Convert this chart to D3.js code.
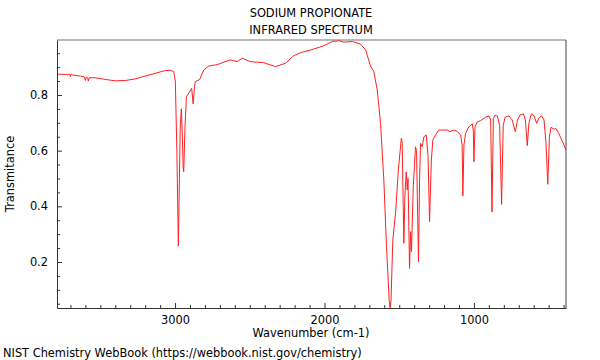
<!DOCTYPE html>
<html><head><meta charset="utf-8">
<script src="https://cdn.jsdelivr.net/npm/d3@7"></script>
<style>body{margin:0;background:#fff}svg{display:block;font-family:"DejaVu Sans",sans-serif}</style>
</head><body><svg id="c" width="600" height="360"></svg>
<script>
const titleLines = ["SODIUM PROPIONATE", "INFRARED SPECTRUM"];
const xLabel = "Wavenumber (cm-1)";
const yLabel = "Transmitance";
const footer = "NIST Chemistry WebBook (https://webbook.nist.gov/chemistry)";
const xTickValues = [3000, 2000, 1000];
const yTickValues = [0.2, 0.4, 0.6, 0.8];
const wavenumber = [3788,3735,3703,3700,3697,3634,3610,3600,3595,3585,3580,3575,3534,3467,3400,3333,3266,3199,3132,3065,3031,3009,2998,2988,2978,2971,2965,2958,2951,2946,2942,2934,2924,2904,2889,2879,2870,2864,2835,2808,2775,2719,2630,2585,2551,2496,2407,2328,2261,2206,2161,2072,2005,1948,1904,1871,1814,1759,1725,1692,1670,1647,1625,1603,1585,1567,1561,1555,1543,1524,1506,1486,1480,1469,1462,1453,1446,1441,1431,1424,1418,1406,1391,1384,1379,1371,1364,1357,1346,1335,1319,1307,1297,1285,1275,1257,1234,1178,1161,1136,1109,1089,1079,1074,1067,1056,1034,1011,1004,1000,993,977,955,922,899,888,879,870,859,843,828,815,804,792,766,744,723,709,692,669,656,643,632,616,598,580,565,547,531,518,506,495,484,464,452,431,397,384];
const transmittance = [0.875,0.874,0.874,0.866,0.873,0.868,0.866,0.852,0.864,0.862,0.85,0.862,0.862,0.856,0.851,0.852,0.858,0.868,0.878,0.888,0.889,0.884,0.85,0.6,0.257,0.5,0.686,0.75,0.65,0.542,0.524,0.68,0.794,0.81,0.824,0.768,0.83,0.848,0.856,0.89,0.904,0.909,0.926,0.92,0.932,0.92,0.916,0.902,0.914,0.941,0.952,0.965,0.977,0.992,0.995,0.99,0.992,0.983,0.962,0.904,0.884,0.818,0.698,0.495,0.255,0.06,0.035,0.06,0.279,0.38,0.53,0.644,0.626,0.267,0.435,0.524,0.459,0.5,0.177,0.309,0.237,0.47,0.614,0.6,0.435,0.2,0.495,0.626,0.614,0.65,0.656,0.58,0.345,0.566,0.638,0.656,0.674,0.674,0.668,0.674,0.668,0.656,0.62,0.438,0.62,0.662,0.686,0.696,0.67,0.56,0.686,0.704,0.708,0.72,0.725,0.71,0.38,0.715,0.727,0.725,0.69,0.407,0.69,0.72,0.725,0.71,0.668,0.71,0.728,0.732,0.71,0.618,0.7,0.732,0.725,0.698,0.718,0.725,0.71,0.63,0.479,0.65,0.684,0.677,0.68,0.66,0.62,0.602];

const W = 600, H = 360;
const m = {l: 57, r: 34, t: 40, b: 52};
const FS = 11.4;
const svg = d3.select("#c");
const x = d3.scaleLinear().domain([3790, 384]).range([m.l, W - m.r]);
const y = d3.scaleLinear().domain([0.0346, 0.9976]).range([H - m.b, m.t]);

const data = wavenumber.map((w, i) => ({w, t: transmittance[i]}));

const xMinor = d3.range(3700, 384, -100).filter(v => !xTickValues.includes(v));
const yMinor = d3.range(0.05, 0.99, 0.05).map(v => +v.toFixed(2)).filter(v => !yTickValues.some(t => Math.abs(t - v) < 1e-6));

const g = svg.append("g");
// frame: top light gray, right dark
g.append("line").attr("x1", m.l).attr("x2", W - m.r).attr("y1", m.t).attr("y2", m.t)
  .attr("stroke", "#a0a0a0").attr("stroke-width", 1.5);
g.append("line").attr("x1", W - m.r).attr("x2", W - m.r).attr("y1", m.t).attr("y2", H - m.b)
  .attr("stroke", "#444").attr("stroke-width", 1);

// spectrum
g.append("clipPath").attr("id", "clip").append("rect").attr("x", m.l).attr("y", m.t - 2).attr("width", W - m.l - m.r).attr("height", H - m.t - m.b + 4);
g.append("path").datum(data).attr("clip-path", "url(#clip)")
  .attr("fill", "none").attr("stroke", "#ff2020").attr("stroke-width", 1)
  .attr("d", d3.line().x(d => x(d.w)).y(d => y(d.t)));

// x axis
const xAxis = g.append("g").attr("transform", `translate(0,${H - m.b})`)
  .call(d3.axisBottom(x).tickValues(xTickValues).tickSizeInner(-5).tickSizeOuter(0).tickPadding(8).tickFormat(d3.format("d")));
xAxis.select(".domain").attr("stroke", "#333");
xAxis.selectAll(".tick line").attr("stroke", "#333");
xAxis.selectAll("text").attr("font-size", FS).attr("fill", "#000").attr("font-family", "DejaVu Sans");
g.append("g").attr("transform", `translate(0,${H - m.b})`)
  .call(d3.axisBottom(x).tickValues(xMinor).tickSizeInner(-3).tickSizeOuter(0).tickFormat(""))
  .call(a => a.select(".domain").remove()).selectAll(".tick line").attr("stroke", "#333");

// y axis
const yAxis = g.append("g").attr("transform", `translate(${m.l},0)`)
  .call(d3.axisLeft(y).tickValues(yTickValues).tickSizeInner(-5).tickSizeOuter(0).tickPadding(9).tickFormat(d3.format(".1f")));
yAxis.select(".domain").attr("stroke", "#333");
yAxis.selectAll(".tick line").attr("stroke", "#333");
yAxis.selectAll("text").attr("font-size", FS).attr("fill", "#000").attr("font-family", "DejaVu Sans");
g.append("g").attr("transform", `translate(${m.l},0)`)
  .call(d3.axisLeft(y).tickValues(yMinor).tickSizeInner(-3).tickSizeOuter(0).tickFormat(""))
  .call(a => a.select(".domain").remove()).selectAll(".tick line").attr("stroke", "#333");

// titles
svg.selectAll(".title").data(titleLines).enter().append("text")
  .attr("x", 311).attr("y", (d, i) => 17 + i * 17).attr("text-anchor", "middle")
  .attr("font-size", FS).text(d => d);
svg.append("text").attr("x", 311).attr("y", 337).attr("text-anchor", "middle").attr("font-size", FS).text(xLabel);
svg.append("text").attr("transform", "translate(14,174) rotate(-90)").attr("text-anchor", "middle").attr("font-size", FS).text(yLabel);
svg.append("text").attr("x", 3).attr("y", 357).attr("font-size", FS).text(footer);
</script></body></html>
